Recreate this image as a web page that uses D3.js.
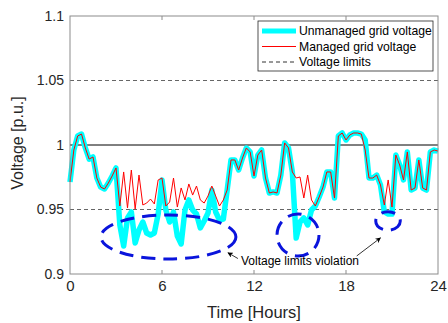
<!DOCTYPE html>
<html>
<head>
<meta charset="utf-8">
<script src="https://cdn.jsdelivr.net/npm/d3@7"></script>
<style>
  body { margin: 0; background: #fff; }
  text { font-family: "Liberation Sans", Arial, sans-serif; }
</style>
</head>
<body>
<svg id="chart"></svg>
<script>
// chart size
const width = 448;
const height = 323;

// time in hours, 15 minute steps
const hours = d3.range(0, 24.01, 0.25);

// unmanaged grid voltage [p.u.]
const unmanaged = [
  0.9713, 0.9961, 1.0070, 1.0085, 0.9977, 0.9891, 0.9907, 0.9744, 0.9674, 0.9659,
  0.9705, 0.9760, 0.9822, 0.9380, 0.9217, 0.9434, 0.9481, 0.9240, 0.9341, 0.9403,
  0.9318, 0.9302, 0.9318, 0.9465, 0.9729, 0.9496, 0.9403, 0.9481, 0.9295, 0.9233,
  0.9496, 0.9574, 0.9496, 0.9465, 0.9357, 0.9411, 0.9473, 0.9651, 0.9481, 0.9419,
  0.9426, 0.9651, 0.9884, 0.9884, 0.9806, 0.9899, 0.9977, 0.9946, 0.9760, 0.9922,
  0.9961, 0.9744, 0.9628, 0.9636, 0.9628, 0.9767, 1.0016, 0.9977, 0.9791, 0.9279,
  0.9403, 0.9434, 0.9380, 0.9496, 0.9527, 0.9597, 0.9674, 0.9791, 0.9791, 0.9589,
  1.0070, 1.0093, 1.0039, 1.0078, 1.0093, 1.0093, 1.0085, 1.0039, 0.9744, 0.9744,
  0.9767, 0.9690, 0.9481, 0.9465, 0.9465, 0.9922, 0.9845, 0.9729, 0.9946, 0.9651,
  0.9667, 0.9884, 0.9667, 0.9651, 0.9946, 0.9961, 0.9953
];

// managed grid voltage [p.u.]
const managed = [
  0.9713, 0.9961, 1.0070, 1.0085, 0.9977, 0.9891, 0.9907, 0.9744, 0.9674, 0.9659,
  0.9705, 0.9760, 0.9822, 0.9527, 0.9791, 0.9512, 0.9806, 0.9504, 0.9767, 0.9535,
  0.9550, 0.9581, 0.9543, 0.9729, 0.9744, 0.9527, 0.9558, 0.9744, 0.9519, 0.9667,
  0.9574, 0.9698, 0.9612, 0.9682, 0.9574, 0.9550, 0.9605, 0.9682, 0.9605, 0.9527,
  0.9574, 0.9651, 0.9884, 0.9884, 0.9806, 0.9899, 0.9977, 0.9946, 0.9760, 0.9922,
  0.9961, 0.9744, 0.9628, 0.9636, 0.9628, 0.9767, 1.0016, 0.9977, 0.9791, 0.9744,
  0.9752, 0.9589, 0.9767, 0.9574, 0.9527, 0.9597, 0.9674, 0.9791, 0.9791, 0.9589,
  1.0070, 1.0093, 1.0039, 1.0078, 1.0093, 1.0093, 1.0085, 0.9961, 0.9744, 0.9744,
  0.9767, 0.9690, 0.9535, 0.9729, 0.9519, 0.9922, 0.9845, 0.9729, 0.9946, 0.9651,
  0.9667, 0.9884, 0.9667, 0.9651, 0.9946, 0.9961, 0.9953
];

const limits = [0.95, 1.05];
const xTicks = [0, 6, 12, 18, 24];
const yTicks = [0.9, 0.95, 1, 1.05, 1.1];

// violation ellipses: centre hour, centre voltage, half width [h], half height [p.u.]
const violations = [
  { t: 6.42, v: 0.9287, rt: 4.4, rv: 0.0171 },
  { t: 14.87, v: 0.9302, rt: 1.37, rv: 0.0163 },
  { t: 20.74, v: 0.9411, rt: 0.8, rv: 0.0072 }
];

const legendLabels = ["Unmanaged grid voltage", "Managed grid voltage", "Voltage limits"];

const margin = { top: 16, right: 10, bottom: 49, left: 70 };
const innerW = width - margin.left - margin.right;
const innerH = height - margin.top - margin.bottom;

const svg = d3.select("#chart")
    .attr("width", width)
    .attr("height", height);

const g = svg.append("g")
    .attr("transform", `translate(${margin.left},${margin.top})`);

const x = d3.scaleLinear().domain([0, 24]).range([0, innerW]);
const y = d3.scaleLinear().domain([0.9, 1.1]).range([innerH, 0]);

// reference line at 1 p.u.
g.append("line")
    .attr("x1", 0).attr("x2", innerW)
    .attr("y1", y(1)).attr("y2", y(1))
    .attr("stroke", "#000").attr("stroke-width", 1);

// voltage limits
g.selectAll(".limit")
    .data(limits)
    .enter()
    .append("line")
    .attr("class", "limit")
    .attr("x1", 0).attr("x2", innerW)
    .attr("y1", d => y(d)).attr("y2", d => y(d))
    .attr("stroke", "#666")
    .attr("stroke-width", 1)
    .attr("stroke-dasharray", "4,3");

const line = d3.line()
    .x((d, i) => x(hours[i]))
    .y(d => y(d));

g.append("path")
    .datum(unmanaged)
    .attr("d", line)
    .attr("fill", "none")
    .attr("stroke", "#00ffff")
    .attr("stroke-width", 5.5)
    .attr("stroke-linejoin", "round");

g.append("path")
    .datum(managed)
    .attr("d", line)
    .attr("fill", "none")
    .attr("stroke", "#ff0000")
    .attr("stroke-width", 1);

// axes box
g.append("rect")
    .attr("width", innerW).attr("height", innerH)
    .attr("fill", "none")
    .attr("stroke", "#8c8c8c").attr("stroke-width", 1);

// inner ticks top and bottom
xTicks.slice(1, -1).forEach(t => {
    g.append("line").attr("x1", x(t)).attr("x2", x(t))
        .attr("y1", innerH).attr("y2", innerH - 4)
        .attr("stroke", "#8c8c8c");
    g.append("line").attr("x1", x(t)).attr("x2", x(t))
        .attr("y1", 0).attr("y2", 4)
        .attr("stroke", "#8c8c8c");
});

// tick labels
const xAxis = g.append("g")
    .attr("transform", `translate(0,${innerH})`)
    .call(d3.axisBottom(x).tickValues(xTicks).tickSize(0).tickPadding(6).tickFormat(d3.format("d")));
xAxis.select(".domain").remove();
xAxis.selectAll("text").attr("font-size", 15).attr("fill", "#262626");

const yAxis = g.append("g")
    .call(d3.axisLeft(y).tickValues(yTicks).tickSize(0).tickPadding(6).tickFormat(d => String(d)));
yAxis.select(".domain").remove();
yAxis.selectAll("text").attr("font-size", 14).attr("fill", "#262626");

// axis titles
svg.append("text")
    .attr("x", margin.left + innerW / 2)
    .attr("y", 318)
    .attr("text-anchor", "middle")
    .attr("font-size", 16.5)
    .attr("fill", "#262626")
    .text("Time [Hours]");

svg.append("text")
    .attr("transform", `translate(23,${margin.top + innerH / 2 - 2}) rotate(-90)`)
    .attr("text-anchor", "middle")
    .attr("font-size", 16)
    .attr("fill", "#262626")
    .text("Voltage [p.u.]");

// violation ellipses
g.selectAll(".viol")
    .data(violations)
    .enter()
    .append("ellipse")
    .attr("cx", d => x(d.t))
    .attr("cy", d => y(d.v))
    .attr("rx", d => x(d.rt) - x(0))
    .attr("ry", d => y(0.9) - y(0.9 + d.rv))
    .attr("fill", "none")
    .attr("stroke", "#0a14dc")
    .attr("stroke-width", 3)
    .attr("stroke-dasharray", "14,8");

// annotation
svg.append("defs").append("marker")
    .attr("id", "arrow")
    .attr("viewBox", "0 0 10 10")
    .attr("refX", 9).attr("refY", 5)
    .attr("markerWidth", 7).attr("markerHeight", 7)
    .attr("orient", "auto")
    .append("path")
    .attr("d", "M0,0 L10,5 L0,10 L3,5 Z")
    .attr("fill", "#000");

g.append("text")
    .attr("x", x(11.15))
    .attr("y", y(0.907))
    .attr("font-size", 12)
    .attr("fill", "#000")
    .text("Voltage limits violation");

g.append("line")
    .attr("x1", x(10.95)).attr("y1", y(0.912))
    .attr("x2", x(10.3)).attr("y2", y(0.9165))
    .attr("stroke", "#000").attr("stroke-width", 0.8)
    .attr("marker-end", "url(#arrow)");

g.append("line")
    .attr("x1", x(18.7)).attr("y1", y(0.914))
    .attr("x2", x(20.25)).attr("y2", y(0.928))
    .attr("stroke", "#000").attr("stroke-width", 0.8)
    .attr("marker-end", "url(#arrow)");

// legend
const lg = svg.append("g").attr("transform", "translate(258,21)");
lg.append("rect")
    .attr("width", 175).attr("height", 50)
    .attr("fill", "#fff")
    .attr("stroke", "#262626").attr("stroke-width", 0.8);

const legendStyles = [
    { stroke: "#00ffff", width: 5, dash: null },
    { stroke: "#ff0000", width: 1, dash: null },
    { stroke: "#333", width: 1, dash: "4,3" }
];

lg.selectAll(".entry")
    .data(legendLabels)
    .enter()
    .append("g")
    .attr("transform", (d, i) => `translate(0,${10 + i * 15.5})`)
    .each(function (d, i) {
        const s = d3.select(this);
        s.append("line")
            .attr("x1", 4).attr("x2", 38)
            .attr("stroke", legendStyles[i].stroke)
            .attr("stroke-width", legendStyles[i].width)
            .attr("stroke-dasharray", legendStyles[i].dash);
        s.append("text")
            .attr("x", 41).attr("dy", "0.35em")
            .attr("font-size", 12.2)
            .attr("fill", "#000")
            .text(d);
    });
</script>
</body>
</html>
